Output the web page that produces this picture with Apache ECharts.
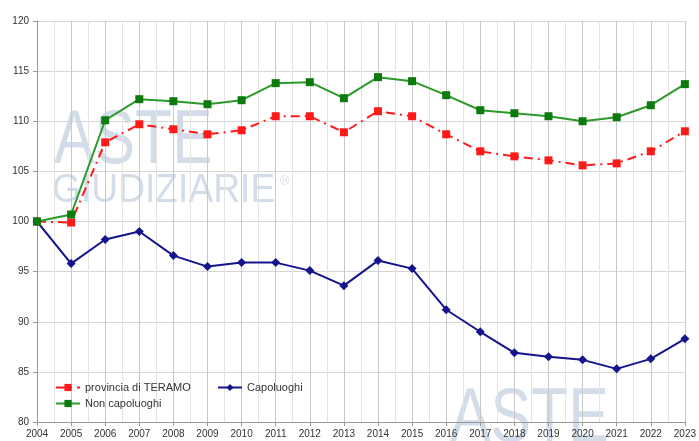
<!DOCTYPE html>
<html>
<head>
<meta charset="utf-8">
<script src="https://cdn.jsdelivr.net/npm/echarts@6/dist/echarts.min.js"></script>
<style>
  html, body { margin: 0; padding: 0; background: #fff; }
  #chart { width: 699px; height: 441px; }
</style>
</head>
<body>
<div id="chart"></div>
<script>
// anni
var years = [2004, 2005, 2006, 2007, 2008, 2009, 2010, 2011, 2012, 2013,
             2014, 2015, 2016, 2017, 2018, 2019, 2020, 2021, 2022, 2023];

// indici (2004 = 100)
var provincia = [100, 99.9, 107.9, 109.7, 109.2, 108.7, 109.1, 110.5, 110.5, 108.9,
                 111.0, 110.5, 108.7, 107.0, 106.5, 106.1, 105.6, 105.8, 107.0, 109.0];
var nonCapoluoghi = [100, 100.7, 110.1, 112.2, 112.0, 111.7, 112.1, 113.8, 113.9, 112.3,
                     114.4, 114.0, 112.6, 111.1, 110.8, 110.5, 110.0, 110.4, 111.6, 113.7];
var capoluoghi = [100, 95.8, 98.2, 99.0, 96.6, 95.5, 95.9, 95.9, 95.1, 93.6,
                  96.1, 95.3, 91.2, 89.0, 86.9, 86.5, 86.2, 85.3, 86.3, 88.3];

var seriesNames = ["provincia di TERAMO", "Capoluoghi", "Non capoluoghi"];

function pairs(vals) {
  return years.map(function (y, i) { return [y, vals[i]]; });
}

var chart = echarts.init(document.getElementById("chart"));
var font = "Liberation Sans, Arial, sans-serif";
var wm = "rgba(140,165,200,0.38)";
var legendText = { fontSize: 11, color: "#333", fontFamily: font };

var option = {
  backgroundColor: "#fff",
  animation: false,
  textStyle: { fontFamily: font },
  grid: { left: 37, right: 13, top: 21, bottom: 19, containLabel: false },
  graphic: [
    // watermark
    { type: "text", x: 54, y: 104, scaleX: 0.8, silent: true, z: 0,
      style: { text: "ASTE", fontSize: 76, fontFamily: font, fill: wm } },
    { type: "text", x: 52, y: 171, scaleX: 0.93, silent: true, z: 0,
      style: { text: "GIUDIZIARIE", fontSize: 40, fontFamily: font, fill: wm } },
    { type: "text", x: 280, y: 175, silent: true, z: 0,
      style: { text: "®", fontSize: 13, fontFamily: font, fill: wm } },
    { type: "text", x: 450, y: 382, scaleX: 0.8, silent: true, z: 0,
      style: { text: "ASTE", fontSize: 76, fontFamily: font, fill: wm } }
  ],
  legend: [
    { data: [seriesNames[0]], left: 50, top: 377, itemWidth: 24, itemHeight: 9, textStyle: legendText },
    { data: [seriesNames[1]], left: 212, top: 377, itemWidth: 24, itemHeight: 9, textStyle: legendText },
    { data: [seriesNames[2]], left: 50, top: 393, itemWidth: 24, itemHeight: 9, textStyle: legendText }
  ],
  xAxis: {
    type: "value",
    min: 2004,
    max: 2023,
    interval: 1,
    axisLine: { lineStyle: { color: "#999" } },
    axisTick: { show: true, length: 4, lineStyle: { color: "#999" } },
    axisLabel: { color: "#333", fontSize: 10, margin: 7, formatter: function (v) { return String(v); } },
    splitLine: { show: true, lineStyle: { color: "#c8c8c8", width: 1 } },
    minorTick: { show: false, splitNumber: 2 },
    minorSplitLine: { show: true, lineStyle: { color: "#e4e4e4", width: 1 } }
  },
  yAxis: {
    type: "value",
    min: 80,
    max: 120,
    interval: 5,
    axisLine: { show: true, lineStyle: { color: "#999" } },
    axisTick: { show: true, length: 4, lineStyle: { color: "#999" } },
    axisLabel: { color: "#333", fontSize: 10, margin: 8 },
    splitLine: { show: true, lineStyle: { color: "#d6d6d6", width: 1 } }
  },
  series: [
    {
      name: seriesNames[0],
      type: "line",
      data: pairs(provincia),
      symbol: "rect",
      symbolSize: 8,
      z: 3,
      itemStyle: { color: "#ff1a1a" },
      lineStyle: { color: "#ff1a1a", width: 2, type: [9, 5, 2, 5] }
    },
    {
      name: seriesNames[1],
      type: "line",
      data: pairs(capoluoghi),
      symbol: "diamond",
      symbolSize: 9,
      z: 3,
      itemStyle: { color: "#14148c" },
      lineStyle: { color: "#14148c", width: 2 }
    },
    {
      name: seriesNames[2],
      type: "line",
      data: pairs(nonCapoluoghi),
      symbol: "rect",
      symbolSize: 8,
      z: 3,
      itemStyle: { color: "#0c7a0c" },
      lineStyle: { color: "#2a9a2a", width: 2 }
    }
  ]
};

chart.setOption(option);
</script>
</body>
</html>
